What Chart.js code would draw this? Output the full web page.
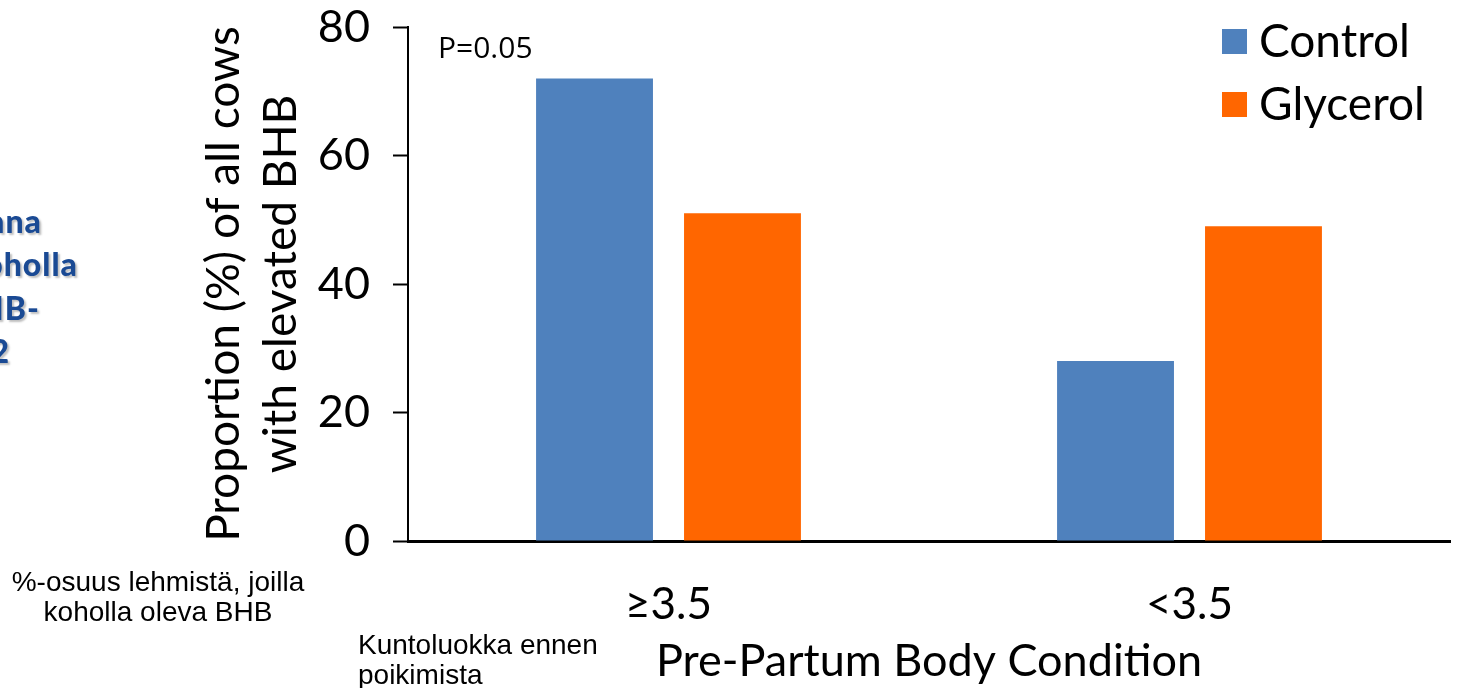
<!DOCTYPE html>
<html>
<head>
<meta charset="utf-8">
<script src="https://cdn.jsdelivr.net/npm/chart.js@4"></script>
<style>
    body { margin: 0; background: #fff; }
    .wrap { position: relative; width: 1459px; height: 688px; overflow: hidden; }
    .note { position: absolute; font-family: 'Liberation Sans', Arial, sans-serif; font-size: 28px; color: #000; line-height: 1.07; }
    .cut { position: absolute; font-family: Lato, sans-serif; font-weight: 900; font-size: 32px; letter-spacing: 1px; color: #1A4A94; text-shadow: 2px 2px 2px rgba(0,0,0,0.25); white-space: nowrap; }
</style>
</head>
<body>
<div class="wrap">
    <canvas id="bhbChart" width="1459" height="688"></canvas>
    <div class="cut" style="right:1417px;top:201px">ana</div>
    <div class="cut" style="right:1381px;top:244px">koholla</div>
    <div class="cut" style="right:1419px;top:288px">BHB-</div>
    <div class="cut" style="right:1449px;top:331px">12</div>
    <div class="note" style="left:0;width:316px;top:567px;text-align:center">%-osuus lehmistä, joilla<br>koholla oleva BHB</div>
    <div class="note" style="left:358px;top:630px">Kuntoluokka ennen<br>poikimista</div>
</div>
<script>
const categories = ['≥3.5', '<3.5'];
const controlValues = [72, 28];
const glycerolValues = [51, 49];
const seriesNames = ['Control', 'Glycerol'];
const seriesColors = ['#4F81BD', '#FF6600'];
const yTicks = [0, 20, 40, 60, 80];
const pNote = 'P=0.05';

// legend + p-value text drawn inside the plot
const extras = {
    id: 'extras',
    afterDraw(chart) {
        const { ctx, chartArea, scales } = chart;
        ctx.save();
        ctx.font = '30px "Open Sans", sans-serif';
        ctx.fillStyle = '#000';
        ctx.textBaseline = 'middle';
        ctx.fillText(pNote, chartArea.left + 30, scales.y.getPixelForValue(76.5));

        ctx.font = '46px Lato, sans-serif';
        chart.data.datasets.forEach((ds, i) => {
            const top = 29 + i * 63;
            ctx.fillStyle = ds.backgroundColor;
            ctx.fillRect(1222, top, 25, 25);
            ctx.fillStyle = '#000';
            ctx.fillText(ds.label, 1259, top + 13);
        });
        ctx.restore();
    }
};

const ctx = document.getElementById('bhbChart').getContext('2d');
new Chart(ctx, {
    type: 'bar',
    data: {
        labels: categories,
        datasets: [
            { label: seriesNames[0], data: controlValues, backgroundColor: seriesColors[0], borderWidth: 0 },
            { label: seriesNames[1], data: glycerolValues, backgroundColor: seriesColors[1], borderWidth: 0 }
        ]
    },
    options: {
        responsive: false, animation: false,
        categoryPercentage: 0.568, barPercentage: 0.79,
        layout: { padding: { left: 196, right: 9, top: 27, bottom: 0 } },
        plugins: { legend: { display: false }, tooltip: { enabled: false } },
        scales: {
            x: {
                afterFit: s => { s.height = 147; s.paddingLeft = 0; s.paddingRight = 0; },
                grid: { display: false },
                border: { color: '#000', width: 3 },
                ticks: { color: '#000', padding: 29, font: { family: 'Lato', size: 44 } },
                title: { display: true, text: 'Pre-Partum Body Condition', color: '#000', padding: { top: 0, bottom: 0 }, font: { family: 'Lato', size: 45 } }
            },
            y: {
                min: 0, max: 80,
                afterBuildTicks: s => { s.ticks = yTicks.map(v => ({ value: v })); },
                afterFit: s => { s.width = 212; s.paddingTop = 0; s.paddingBottom = 0; },
                grid: { drawOnChartArea: false, tickLength: 15, tickWidth: 2, tickColor: '#000' },
                border: { color: '#000', width: 2 },
                ticks: { color: '#000', padding: 23, font: { family: 'Lato', size: 45 } },
                title: { display: true, text: ['Proportion (%) of all cows', 'with elevated BHB'], color: '#000', padding: 0, font: { family: 'Lato', size: 46, lineHeight: 1.24 } }
            }
        }
    },
    plugins: [extras]
});
</script>
</body>
</html>
